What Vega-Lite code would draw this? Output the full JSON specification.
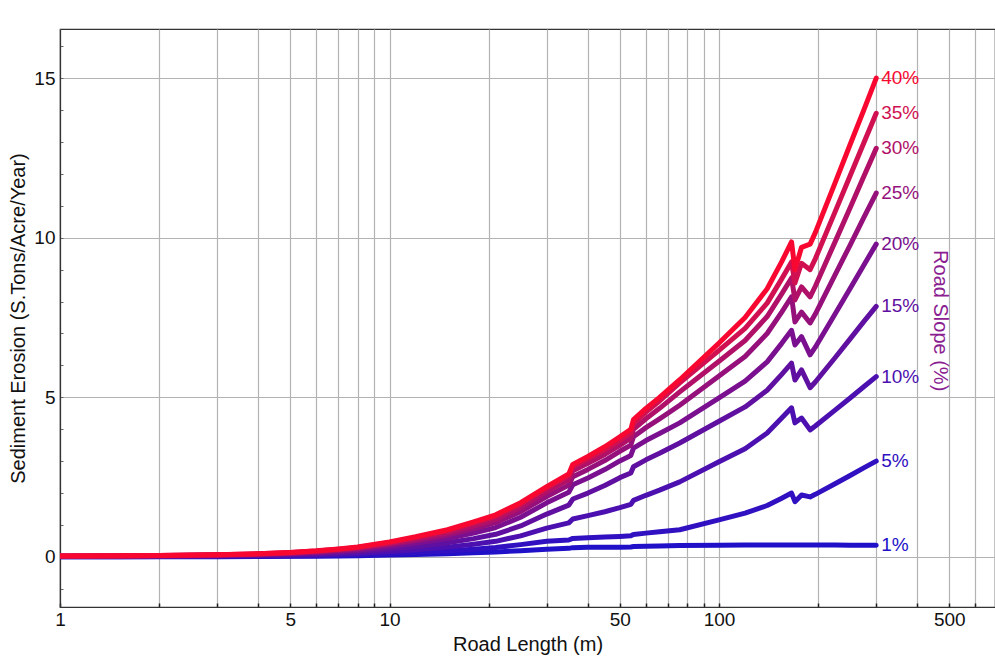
{
  "$schema": "https://vega.github.io/schema/vega-lite/v6.json",
  "width": 935,
  "height": 578,
  "autosize": "none",
  "padding": {"left": 60, "top": 29, "right": 0, "bottom": 50},
  "background": "white",
  "config": {"view": {"stroke": "#333", "strokeWidth": 1.2}, "font": "Liberation Sans"},
  "datasets": {
    "curves": [
      {"slope":"1%","x":1,"y":0.004},{"slope":"1%","x":1.5,"y":0.004},{"slope":"1%","x":2,"y":0.005},{"slope":"1%","x":3,"y":0.008},{"slope":"1%","x":4,"y":0.012},{"slope":"1%","x":5,"y":0.017},{"slope":"1%","x":6,"y":0.023},{"slope":"1%","x":7,"y":0.03},{"slope":"1%","x":8,"y":0.037},{"slope":"1%","x":10,"y":0.056},{"slope":"1%","x":12,"y":0.076},{"slope":"1%","x":15,"y":0.102},{"slope":"1%","x":18,"y":0.132},{"slope":"1%","x":21,"y":0.156},{"slope":"1%","x":25,"y":0.196},{"slope":"1%","x":30,"y":0.242},{"slope":"1%","x":35,"y":0.268},{"slope":"1%","x":36,"y":0.29},{"slope":"1%","x":40,"y":0.299},{"slope":"1%","x":45,"y":0.304},{"slope":"1%","x":50,"y":0.306},{"slope":"1%","x":54,"y":0.312},{"slope":"1%","x":55,"y":0.325},{"slope":"1%","x":60,"y":0.335},{"slope":"1%","x":66,"y":0.345},{"slope":"1%","x":76,"y":0.355},{"slope":"1%","x":100,"y":0.365},{"slope":"1%","x":120,"y":0.37},{"slope":"1%","x":140,"y":0.37},{"slope":"1%","x":155,"y":0.37},{"slope":"1%","x":166,"y":0.372},{"slope":"1%","x":170,"y":0.37},{"slope":"1%","x":178,"y":0.37},{"slope":"1%","x":189,"y":0.37},{"slope":"1%","x":196,"y":0.37},{"slope":"1%","x":225,"y":0.37},{"slope":"1%","x":250,"y":0.368},{"slope":"1%","x":275,"y":0.368},{"slope":"1%","x":300,"y":0.367},
      {"slope":"5%","x":1,"y":0.007},{"slope":"5%","x":1.5,"y":0.008},{"slope":"5%","x":2,"y":0.01},{"slope":"5%","x":3,"y":0.015},{"slope":"5%","x":4,"y":0.022},{"slope":"5%","x":5,"y":0.031},{"slope":"5%","x":6,"y":0.042},{"slope":"5%","x":7,"y":0.055},{"slope":"5%","x":8,"y":0.068},{"slope":"5%","x":10,"y":0.103},{"slope":"5%","x":12,"y":0.139},{"slope":"5%","x":15,"y":0.187},{"slope":"5%","x":18,"y":0.242},{"slope":"5%","x":21,"y":0.293},{"slope":"5%","x":25,"y":0.384},{"slope":"5%","x":30,"y":0.49},{"slope":"5%","x":35,"y":0.53},{"slope":"5%","x":36,"y":0.58},{"slope":"5%","x":40,"y":0.6},{"slope":"5%","x":45,"y":0.62},{"slope":"5%","x":50,"y":0.64},{"slope":"5%","x":54,"y":0.66},{"slope":"5%","x":55,"y":0.7},{"slope":"5%","x":60,"y":0.745},{"slope":"5%","x":66,"y":0.79},{"slope":"5%","x":76,"y":0.85},{"slope":"5%","x":100,"y":1.16},{"slope":"5%","x":120,"y":1.37},{"slope":"5%","x":140,"y":1.61},{"slope":"5%","x":155,"y":1.84},{"slope":"5%","x":166,"y":2.0},{"slope":"5%","x":170,"y":1.73},{"slope":"5%","x":178,"y":1.94},{"slope":"5%","x":189,"y":1.88},{"slope":"5%","x":196,"y":1.96},{"slope":"5%","x":225,"y":2.29},{"slope":"5%","x":250,"y":2.55},{"slope":"5%","x":275,"y":2.79},{"slope":"5%","x":300,"y":3.0},
      {"slope":"10%","x":1,"y":0.011},{"slope":"10%","x":1.5,"y":0.013},{"slope":"10%","x":2,"y":0.016},{"slope":"10%","x":3,"y":0.025},{"slope":"10%","x":4,"y":0.036},{"slope":"10%","x":5,"y":0.05},{"slope":"10%","x":6,"y":0.068},{"slope":"10%","x":7,"y":0.09},{"slope":"10%","x":8,"y":0.112},{"slope":"10%","x":10,"y":0.169},{"slope":"10%","x":12,"y":0.227},{"slope":"10%","x":15,"y":0.306},{"slope":"10%","x":18,"y":0.396},{"slope":"10%","x":21,"y":0.487},{"slope":"10%","x":25,"y":0.66},{"slope":"10%","x":30,"y":0.902},{"slope":"10%","x":35,"y":1.066},{"slope":"10%","x":36,"y":1.189},{"slope":"10%","x":40,"y":1.292},{"slope":"10%","x":45,"y":1.415},{"slope":"10%","x":50,"y":1.542},{"slope":"10%","x":54,"y":1.648},{"slope":"10%","x":55,"y":1.772},{"slope":"10%","x":60,"y":1.93},{"slope":"10%","x":66,"y":2.09},{"slope":"10%","x":76,"y":2.35},{"slope":"10%","x":100,"y":2.98},{"slope":"10%","x":120,"y":3.39},{"slope":"10%","x":140,"y":3.88},{"slope":"10%","x":155,"y":4.35},{"slope":"10%","x":166,"y":4.67},{"slope":"10%","x":170,"y":4.2},{"slope":"10%","x":178,"y":4.35},{"slope":"10%","x":189,"y":3.98},{"slope":"10%","x":196,"y":4.1},{"slope":"10%","x":225,"y":4.6},{"slope":"10%","x":250,"y":4.98},{"slope":"10%","x":275,"y":5.33},{"slope":"10%","x":300,"y":5.65},
      {"slope":"15%","x":1,"y":0.016},{"slope":"15%","x":1.5,"y":0.018},{"slope":"15%","x":2,"y":0.023},{"slope":"15%","x":3,"y":0.036},{"slope":"15%","x":4,"y":0.052},{"slope":"15%","x":5,"y":0.073},{"slope":"15%","x":6,"y":0.099},{"slope":"15%","x":7,"y":0.13},{"slope":"15%","x":8,"y":0.161},{"slope":"15%","x":10,"y":0.244},{"slope":"15%","x":12,"y":0.328},{"slope":"15%","x":15,"y":0.442},{"slope":"15%","x":18,"y":0.572},{"slope":"15%","x":21,"y":0.708},{"slope":"15%","x":25,"y":0.969},{"slope":"15%","x":30,"y":1.342},{"slope":"15%","x":35,"y":1.62},{"slope":"15%","x":36,"y":1.813},{"slope":"15%","x":40,"y":2.0},{"slope":"15%","x":45,"y":2.236},{"slope":"15%","x":50,"y":2.482},{"slope":"15%","x":54,"y":2.628},{"slope":"15%","x":55,"y":2.825},{"slope":"15%","x":60,"y":3.041},{"slope":"15%","x":66,"y":3.245},{"slope":"15%","x":76,"y":3.57},{"slope":"15%","x":100,"y":4.25},{"slope":"15%","x":120,"y":4.7},{"slope":"15%","x":140,"y":5.22},{"slope":"15%","x":155,"y":5.72},{"slope":"15%","x":166,"y":6.07},{"slope":"15%","x":170,"y":5.54},{"slope":"15%","x":178,"y":5.86},{"slope":"15%","x":189,"y":5.3},{"slope":"15%","x":196,"y":5.48},{"slope":"15%","x":225,"y":6.24},{"slope":"15%","x":250,"y":6.83},{"slope":"15%","x":275,"y":7.37},{"slope":"15%","x":300,"y":7.85},
      {"slope":"20%","x":1,"y":0.02},{"slope":"20%","x":1.5,"y":0.024},{"slope":"20%","x":2,"y":0.031},{"slope":"20%","x":3,"y":0.048},{"slope":"20%","x":4,"y":0.068},{"slope":"20%","x":5,"y":0.095},{"slope":"20%","x":6,"y":0.129},{"slope":"20%","x":7,"y":0.17},{"slope":"20%","x":8,"y":0.211},{"slope":"20%","x":10,"y":0.32},{"slope":"20%","x":12,"y":0.428},{"slope":"20%","x":15,"y":0.578},{"slope":"20%","x":18,"y":0.748},{"slope":"20%","x":21,"y":0.919},{"slope":"20%","x":25,"y":1.241},{"slope":"20%","x":30,"y":1.694},{"slope":"20%","x":35,"y":2.023},{"slope":"20%","x":36,"y":2.259},{"slope":"20%","x":40,"y":2.473},{"slope":"20%","x":45,"y":2.736},{"slope":"20%","x":50,"y":3.008},{"slope":"20%","x":54,"y":3.176},{"slope":"20%","x":55,"y":3.406},{"slope":"20%","x":60,"y":3.646},{"slope":"20%","x":66,"y":3.865},{"slope":"20%","x":76,"y":4.2},{"slope":"20%","x":100,"y":4.98},{"slope":"20%","x":120,"y":5.51},{"slope":"20%","x":140,"y":6.11},{"slope":"20%","x":155,"y":6.69},{"slope":"20%","x":166,"y":7.1},{"slope":"20%","x":170,"y":6.64},{"slope":"20%","x":178,"y":6.9},{"slope":"20%","x":189,"y":6.33},{"slope":"20%","x":196,"y":6.57},{"slope":"20%","x":225,"y":7.61},{"slope":"20%","x":250,"y":8.41},{"slope":"20%","x":275,"y":9.14},{"slope":"20%","x":300,"y":9.8},
      {"slope":"25%","x":1,"y":0.024},{"slope":"25%","x":1.5,"y":0.028},{"slope":"25%","x":2,"y":0.036},{"slope":"25%","x":3,"y":0.056},{"slope":"25%","x":4,"y":0.08},{"slope":"25%","x":5,"y":0.112},{"slope":"25%","x":6,"y":0.152},{"slope":"25%","x":7,"y":0.2},{"slope":"25%","x":8,"y":0.248},{"slope":"25%","x":10,"y":0.376},{"slope":"25%","x":12,"y":0.504},{"slope":"25%","x":15,"y":0.68},{"slope":"25%","x":18,"y":0.88},{"slope":"25%","x":21,"y":1.071},{"slope":"25%","x":25,"y":1.416},{"slope":"25%","x":30,"y":1.892},{"slope":"25%","x":35,"y":2.249},{"slope":"25%","x":36,"y":2.511},{"slope":"25%","x":40,"y":2.741},{"slope":"25%","x":45,"y":3.019},{"slope":"25%","x":50,"y":3.309},{"slope":"25%","x":54,"y":3.504},{"slope":"25%","x":55,"y":3.763},{"slope":"25%","x":60,"y":4.05},{"slope":"25%","x":66,"y":4.325},{"slope":"25%","x":76,"y":4.75},{"slope":"25%","x":100,"y":5.67},{"slope":"25%","x":120,"y":6.28},{"slope":"25%","x":140,"y":7.0},{"slope":"25%","x":155,"y":7.67},{"slope":"25%","x":166,"y":8.15},{"slope":"25%","x":170,"y":7.36},{"slope":"25%","x":178,"y":7.67},{"slope":"25%","x":189,"y":7.33},{"slope":"25%","x":196,"y":7.61},{"slope":"25%","x":225,"y":8.84},{"slope":"25%","x":250,"y":9.77},{"slope":"25%","x":275,"y":10.63},{"slope":"25%","x":300,"y":11.4},
      {"slope":"30%","x":1,"y":0.026},{"slope":"30%","x":1.5,"y":0.031},{"slope":"30%","x":2,"y":0.04},{"slope":"30%","x":3,"y":0.062},{"slope":"30%","x":4,"y":0.088},{"slope":"30%","x":5,"y":0.123},{"slope":"30%","x":6,"y":0.167},{"slope":"30%","x":7,"y":0.22},{"slope":"30%","x":8,"y":0.273},{"slope":"30%","x":10,"y":0.414},{"slope":"30%","x":12,"y":0.554},{"slope":"30%","x":15,"y":0.748},{"slope":"30%","x":18,"y":0.968},{"slope":"30%","x":21,"y":1.173},{"slope":"30%","x":25,"y":1.544},{"slope":"30%","x":30,"y":2.046},{"slope":"30%","x":35,"y":2.418},{"slope":"30%","x":36,"y":2.697},{"slope":"30%","x":40,"y":2.93},{"slope":"30%","x":45,"y":3.209},{"slope":"30%","x":50,"y":3.497},{"slope":"30%","x":54,"y":3.72},{"slope":"30%","x":55,"y":4.0},{"slope":"30%","x":60,"y":4.329},{"slope":"30%","x":66,"y":4.655},{"slope":"30%","x":76,"y":5.17},{"slope":"30%","x":100,"y":6.13},{"slope":"30%","x":120,"y":6.78},{"slope":"30%","x":140,"y":7.53},{"slope":"30%","x":155,"y":8.24},{"slope":"30%","x":166,"y":8.74},{"slope":"30%","x":170,"y":8.05},{"slope":"30%","x":178,"y":8.46},{"slope":"30%","x":189,"y":8.15},{"slope":"30%","x":196,"y":8.48},{"slope":"30%","x":225,"y":9.87},{"slope":"30%","x":250,"y":10.94},{"slope":"30%","x":275,"y":11.92},{"slope":"30%","x":300,"y":12.8},
      {"slope":"35%","x":1,"y":0.029},{"slope":"35%","x":1.5,"y":0.034},{"slope":"35%","x":2,"y":0.043},{"slope":"35%","x":3,"y":0.067},{"slope":"35%","x":4,"y":0.096},{"slope":"35%","x":5,"y":0.134},{"slope":"35%","x":6,"y":0.182},{"slope":"35%","x":7,"y":0.24},{"slope":"35%","x":8,"y":0.298},{"slope":"35%","x":10,"y":0.451},{"slope":"35%","x":12,"y":0.605},{"slope":"35%","x":15,"y":0.816},{"slope":"35%","x":18,"y":1.056},{"slope":"35%","x":21,"y":1.272},{"slope":"35%","x":25,"y":1.651},{"slope":"35%","x":30,"y":2.156},{"slope":"35%","x":35,"y":2.543},{"slope":"35%","x":36,"y":2.833},{"slope":"35%","x":40,"y":3.071},{"slope":"35%","x":45,"y":3.357},{"slope":"35%","x":50,"y":3.647},{"slope":"35%","x":54,"y":3.888},{"slope":"35%","x":55,"y":4.18},{"slope":"35%","x":60,"y":4.534},{"slope":"35%","x":66,"y":4.885},{"slope":"35%","x":76,"y":5.45},{"slope":"35%","x":100,"y":6.47},{"slope":"35%","x":120,"y":7.16},{"slope":"35%","x":140,"y":7.95},{"slope":"35%","x":155,"y":8.71},{"slope":"35%","x":166,"y":9.24},{"slope":"35%","x":170,"y":8.58},{"slope":"35%","x":178,"y":9.2},{"slope":"35%","x":189,"y":9.0},{"slope":"35%","x":196,"y":9.34},{"slope":"35%","x":225,"y":10.81},{"slope":"35%","x":250,"y":11.94},{"slope":"35%","x":275,"y":12.97},{"slope":"35%","x":300,"y":13.9},
      {"slope":"40%","x":1,"y":0.03},{"slope":"40%","x":1.5,"y":0.035},{"slope":"40%","x":2,"y":0.045},{"slope":"40%","x":3,"y":0.07},{"slope":"40%","x":4,"y":0.1},{"slope":"40%","x":5,"y":0.14},{"slope":"40%","x":6,"y":0.19},{"slope":"40%","x":7,"y":0.25},{"slope":"40%","x":8,"y":0.31},{"slope":"40%","x":10,"y":0.47},{"slope":"40%","x":12,"y":0.63},{"slope":"40%","x":15,"y":0.85},{"slope":"40%","x":18,"y":1.1},{"slope":"40%","x":21,"y":1.32},{"slope":"40%","x":25,"y":1.7},{"slope":"40%","x":30,"y":2.2},{"slope":"40%","x":35,"y":2.6},{"slope":"40%","x":36,"y":2.9},{"slope":"40%","x":40,"y":3.15},{"slope":"40%","x":45,"y":3.45},{"slope":"40%","x":50,"y":3.76},{"slope":"40%","x":54,"y":4.0},{"slope":"40%","x":55,"y":4.3},{"slope":"40%","x":60,"y":4.65},{"slope":"40%","x":66,"y":5.0},{"slope":"40%","x":76,"y":5.55},{"slope":"40%","x":100,"y":6.7},{"slope":"40%","x":120,"y":7.5},{"slope":"40%","x":140,"y":8.4},{"slope":"40%","x":155,"y":9.25},{"slope":"40%","x":166,"y":9.87},{"slope":"40%","x":170,"y":9.0},{"slope":"40%","x":178,"y":9.7},{"slope":"40%","x":189,"y":9.8},{"slope":"40%","x":196,"y":10.16},{"slope":"40%","x":225,"y":11.72},{"slope":"40%","x":250,"y":12.92},{"slope":"40%","x":275,"y":14.0},{"slope":"40%","x":300,"y":15.0}
    ],
    "note": [{"x": 470, "y": 7.4, "t": "Road Slope (%)"}]
  },
  "encoding": {
    "x": {
      "field": "x", "type": "quantitative",
      "scale": {"type": "log", "domain": [1, 688], "nice": false},
      "axis": {
        "values": [1,2,3,4,5,6,7,8,9,10,20,30,40,50,60,70,80,90,100,200,300,400,500,600],
        "format": "d",
        "labelExpr": "indexof([1,5,10,50,100,500], datum.value) >= 0 ? datum.label : ''",
        "title": "Road Length (m)",
        "titleFontSize": 20, "titleFontWeight": "normal", "titleColor": "#111",
        "titleY": 37, "titleBaseline": "middle",
        "labelFontSize": 19, "labelColor": "#111", "labelPadding": 7, "labelFlush": false,
        "grid": true, "gridColor": "#b3b3b3", "gridWidth": 1.2,
        "domainColor": "#333", "domainWidth": 1.2,
        "ticks": true, "tickSize": -4, "tickColor": "#222", "tickWidth": 1.5
      }
    },
    "y": {
      "field": "y", "type": "quantitative",
      "scale": {"domain": [-1.57, 16.54], "nice": false, "zero": false},
      "axis": {
        "values": [-1,0,1,2,3,4,5,6,7,8,9,10,11,12,13,14,15,16],
        "labelExpr": "indexof([0,5,10,15], datum.value) >= 0 ? datum.label : ''",
        "gridOpacity": {"condition": {"test": "indexof([0,5,10,15], datum.value) >= 0", "value": 1}, "value": 0},
        "title": "Sediment Erosion (S.Tons/Acre/Year)",
        "titleFontSize": 20, "titleFontWeight": "normal", "titleColor": "#111",
        "titleX": -42, "titleBaseline": "middle",
        "labelFontSize": 19, "labelColor": "#111", "labelPadding": 8,
        "grid": true, "gridColor": "#b3b3b3", "gridWidth": 1.2,
        "domainColor": "#333", "domainWidth": 1.2,
        "ticks": true, "tickSize": -3, "tickColor": "#666", "tickWidth": 1
      }
    }
  },
  "layer": [
    {
      "data": {"name": "curves"},
      "mark": {"type": "line", "strokeWidth": 5, "strokeCap": "round", "strokeJoin": "round", "clip": true},
      "encoding": {
        "color": {
          "field": "slope", "type": "nominal",
          "scale": {"domain": ["1%","5%","10%","15%","20%","25%","30%","35%","40%"],
                    "range": ["#2010c8","#3010c0","#4c10b0","#6010a0","#7a1090","#96107c","#b01068","#d01050","#f80830"]},
          "legend": null
        }
      }
    },
    {
      "data": {"name": "curves"},
      "transform": [{"filter": "datum.x == 300"}],
      "mark": {"type": "text", "align": "left", "baseline": "middle", "dx": 5, "fontSize": 19},
      "encoding": {
        "text": {"field": "slope"},
        "color": {"field": "slope", "type": "nominal", "legend": null}
      }
    },
    {
      "data": {"name": "note"},
      "mark": {"type": "text", "angle": 90, "align": "center", "baseline": "middle", "fontSize": 20, "color": "#8a2090"},
      "encoding": {"text": {"field": "t"}}
    }
  ]
}
